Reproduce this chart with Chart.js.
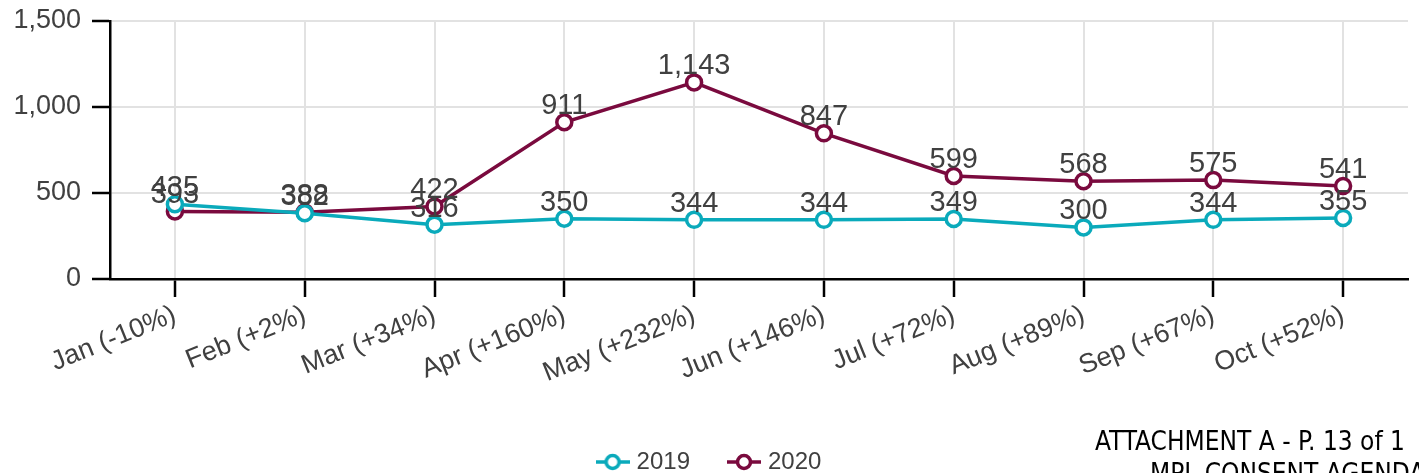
<!DOCTYPE html>
<html>
<head>
<meta charset="utf-8">
<script src="https://cdn.jsdelivr.net/npm/chart.js@4"></script>
<style>
html, body { margin: 0; padding: 0; background: #fff; overflow: hidden; }
#wrap { position: relative; width: 1419px; height: 473px; overflow: hidden; }
.note { position: absolute; font-family: "Liberation Sans Narrow", "DejaVu Sans Condensed", sans-serif; color: #000; white-space: nowrap; font-size: 26px; }
</style>
</head>
<body>
<div id="wrap">
	<canvas id="trend" width="1419" height="484"></canvas>
	<div class="note" style="left:1095px; top:426px;">ATTACHMENT A - P. 13 of 1</div>
	<div class="note" style="left:1150px; top:458px;">MPL CONSENT AGENDA</div>
</div>
<script>
// data
const months = ["Jan (-10%)", "Feb (+2%)", "Mar (+34%)", "Apr (+160%)", "May (+232%)",
	"Jun (+146%)", "Jul (+72%)", "Aug (+89%)", "Sep (+67%)", "Oct (+52%)"]
const values2019 = [435, 382, 316, 350, 344, 344, 349, 300, 344, 355]
const values2020 = [393, 388, 422, 911, 1143, 847, 599, 568, 575, 541]
const yTicks = [0, 500, 1000, 1500]

const teal = "#0aaabb"
const maroon = "#7a0a3e"
const textGray = "#404040"
const fontFamily = "'Liberation Sans', Arial, sans-serif"

//legend icon: line with a hollow circle
function legendIcon(color) {
	let c = document.createElement("canvas")
	c.width = 34
	c.height = 18
	let g = c.getContext("2d")
	g.strokeStyle = color
	g.lineWidth = 3.5
	g.beginPath()
	g.moveTo(0, 9)
	g.lineTo(34, 9)
	g.stroke()
	g.beginPath()
	g.arc(17, 9, 6.5, 0, Math.PI * 2)
	g.fillStyle = "#fff"
	g.fill()
	g.stroke()
	return c
}
const icons = [legendIcon(teal), legendIcon(maroon)]

//draw the value above every point
const valueLabels = {
	id: "valueLabels",
	afterDatasetsDraw(chart) {
		let ctx = chart.ctx
		ctx.save()
		ctx.font = "29px " + fontFamily
		ctx.fillStyle = textGray
		ctx.textAlign = "center"
		ctx.textBaseline = "alphabetic"
		chart.data.datasets.forEach((ds, i) => {
			chart.getDatasetMeta(i).data.forEach((pt, j) => {
				ctx.fillText(ds.data[j].toLocaleString("en-US"), pt.x, pt.y - 8)
			})
		})
		ctx.restore()
	}
}

let ctx = document.getElementById("trend").getContext("2d")
let chart = new Chart(ctx, {
	type: "line",
	data: {
		labels: months,
		datasets: [{
			label: "2019",
			data: values2019,
			borderColor: teal,
			backgroundColor: "#fff",
			borderWidth: 3.5,
			pointRadius: 7.5,
			pointBorderWidth: 3.5,
			tension: 0
		}, {
			label: "2020",
			data: values2020,
			borderColor: maroon,
			backgroundColor: "#fff",
			borderWidth: 3.5,
			pointRadius: 7.5,
			pointBorderWidth: 3.5,
			tension: 0
		}]
	},
	options: {
		responsive: false,
		animation: false,
		events: [],
		layout: {
			padding: { top: 21, right: 7, bottom: 0, left: 10 }
		},
		scales: {
			x: {
				offset: true,
				grid: { color: "#e2e2e2", lineWidth: 2, tickColor: "#000", tickLength: 18, tickWidth: 2.5 },
				border: { color: "#000", width: 2.5 },
				ticks: {
					color: textGray,
					font: { family: fontFamily, size: 27 },
					minRotation: 22,
					maxRotation: 22,
					padding: 2,
					autoSkip: false
				},
				afterFit(scale) { scale.height = 129 }
			},
			y: {
				min: yTicks[0],
				max: yTicks[yTicks.length - 1],
				afterBuildTicks(scale) { scale.ticks = yTicks.map(v => ({ value: v })) },
				grid: { color: "#e2e2e2", lineWidth: 2, tickColor: "#000", tickLength: 18, tickWidth: 2.5 },
				border: { color: "#000", width: 2.5 },
				ticks: {
					color: textGray,
					font: { family: fontFamily, size: 27 },
					padding: 11,
					callback: v => v.toLocaleString("en-US")
				},
				afterFit(scale) {
					scale.width = 100
					scale.paddingTop = 0
					scale.paddingBottom = 0
				}
			}
		},
		plugins: {
			tooltip: { enabled: false },
			legend: {
				position: "bottom",
				labels: {
					usePointStyle: true,
					color: textGray,
					font: { family: fontFamily, size: 24 },
					padding: 42,
					generateLabels(ch) {
						let items = Chart.defaults.plugins.legend.labels.generateLabels(ch)
						items.forEach((it, i) => { it.pointStyle = icons[i] })
						return items
					}
				}
			}
		}
	},
	plugins: [valueLabels]
})
</script>
</body>
</html>
